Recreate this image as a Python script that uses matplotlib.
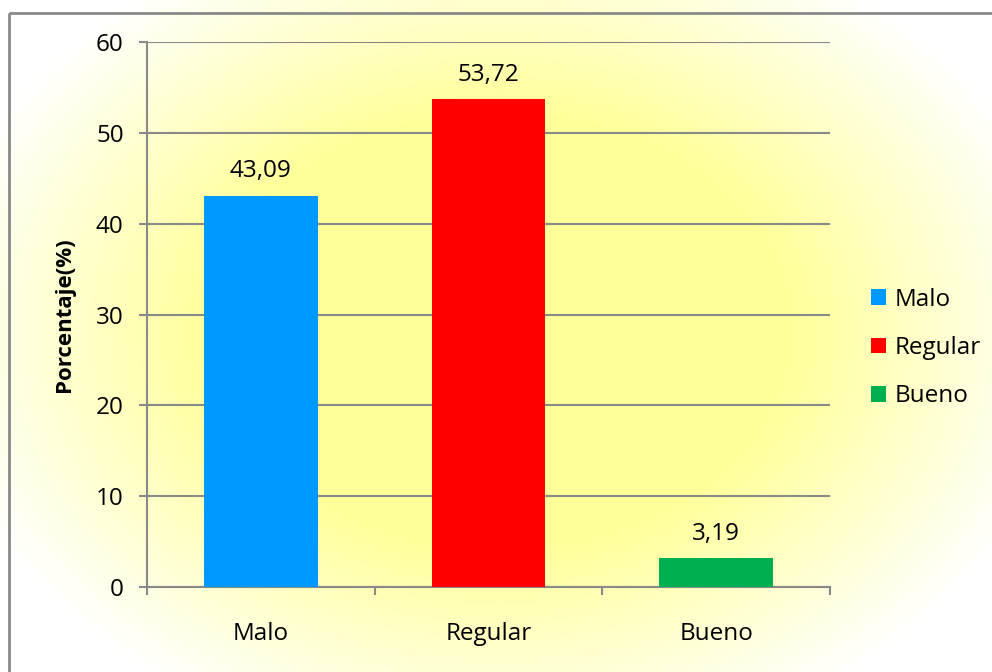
import numpy as np
import matplotlib
matplotlib.use("Agg")
import matplotlib.pyplot as plt
from matplotlib.patches import Rectangle, Patch

categories = ["Malo", "Regular", "Bueno"]
values = [43.09, 53.72, 3.19]
labels = ["43,09", "53,72", "3,19"]
colors = ["#0099FF", "#FF0000", "#00B050"]
yticks = [0, 10, 20, 30, 40, 50, 60]
ylabel = "Porcentaje(%)"

W, H = 992, 672
FS = 17.5
plt.rcParams['font.family'] = ['Open Sans', 'DejaVu Sans']
fig = plt.figure(figsize=(W / 100, H / 100), dpi=100)

# background gradient
bg = fig.add_axes([0, 0, 1, 1], zorder=0)
bg.set_axis_off()
xx, yy = np.meshgrid(np.arange(W), np.arange(H))
cx, cy, rx, ry = 500, 330, 570, 430
t = np.sqrt(((xx - cx) / rx) ** 2 + ((yy - cy) / ry) ** 2)
f = np.clip((t - 0.5) / 0.5, 0, 1)
yellow = np.array([255, 255, 153]) / 255.0
white = np.array([1.0, 1.0, 1.0])
img = yellow[None, None, :] * (1 - f[..., None]) + white[None, None, :] * f[..., None]
bg.imshow(img, extent=[0, W, H, 0], aspect='auto')
bg.set_xlim(0, W)
bg.set_ylim(H, 0)
bg.add_patch(Rectangle((9, 13), W + 20, H + 20, fill=False, edgecolor="#898989", lw=2))

L, R, T, B = 147, 830, 42, 587
ax = fig.add_axes([L / W, 1 - B / H, (R - L) / W, (B - T) / H], zorder=1)
ax.patch.set_alpha(0)
x = np.arange(len(categories))
ax.bar(x, values, width=0.5, color=colors, zorder=3)
for xi, v, lab in zip(x, values, labels):
    ax.text(xi, v + 2.0, lab, ha='center', va='baseline', fontsize=FS)
ax.set_xlim(-0.5, 2.5)
ax.set_ylim(0, 60)
ax.set_yticks(yticks)
ax.set_yticklabels([str(v) for v in yticks], fontsize=FS)
ax.yaxis.grid(True, color="#898989", lw=1.5, zorder=1)
ax.set_axisbelow(True)
ax.set_xticks([-0.5, 0.5, 1.5, 2.5])
ax.set_xticklabels([])
ax.set_xticks(x, minor=True)
ax.set_xticklabels(categories, minor=True, fontsize=FS)
ax.tick_params(axis='x', which='minor', length=0, pad=25)
ax.tick_params(axis='x', which='major', length=5.5, width=1.5, color="#898989", direction='out')
ax.tick_params(axis='y', length=5.8, width=1.5, color="#898989", direction='out', pad=11)
for s in ['top', 'right']:
    ax.spines[s].set_visible(False)
for s in ['left', 'bottom']:
    ax.spines[s].set_color("#898989")
    ax.spines[s].set_linewidth(1.5)
ax.set_ylabel(ylabel, fontsize=16, fontweight='bold', labelpad=15)

handles = [Patch(facecolor=c, edgecolor='none') for c in colors]
fig.legend(handles, categories, loc='center left', bbox_to_anchor=(849 / W, 1 - 348 / H),
           frameon=False, fontsize=FS, handlelength=0.62, handleheight=0.62,
           handletextpad=0.35, labelspacing=1.0)

fig.savefig("out.png", dpi=100)
